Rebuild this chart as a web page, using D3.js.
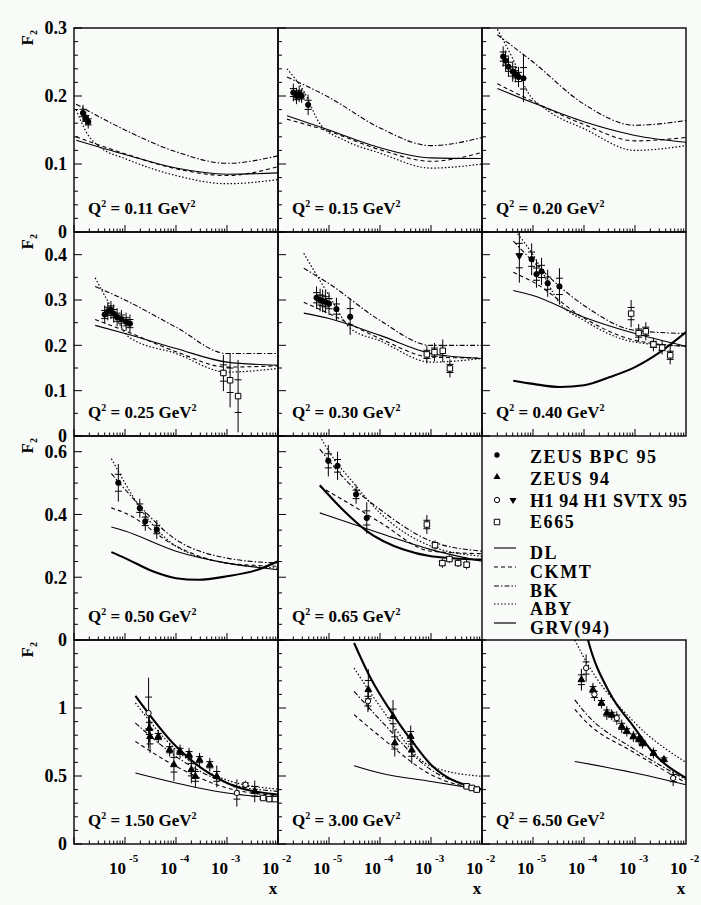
<!DOCTYPE html>
<html>
<head>
<meta charset="utf-8">
<script src="https://cdn.jsdelivr.net/npm/d3@7"></script>
<style>
body { margin: 0; background: #f8fbf8; }
svg text { font-family: "Liberation Serif", "Times New Roman", Times, serif; font-weight: bold; fill: #000; }
</style>
</head>
<body>
<div id="chart"></div>
<script>
// F2 vs x for 11 Q^2 bins, models DL / CKMT / BK / ABY / GRV(94)
var q2Labels = ["0.11", "0.15", "0.20", "0.25", "0.30", "0.40", "0.50", "0.65", "1.50", "3.00", "6.50"];
var panelCell = [0, 1, 2, 3, 4, 5, 6, 7, 9, 10, 11];   // cell 8 holds the legend
var rowMax = [0.3, 0.45, 0.65, 1.5];
var rowLabels = [[0, 0.1, 0.2, 0.3], [0, 0.1, 0.2, 0.3, 0.4], [0, 0.2, 0.4, 0.6], [0, 0.5, 1]];
var rowMinor = [0.02, 0.05, 0.05, 0.1];
var xTickLabels = [-5, -4, -3, -2];

// model curves, [x, F2] per panel
var dlCurves = [
  [[1.1e-6, 0.135], [1e-5, 0.114], [1e-4, 0.094], [1e-3, 0.085], [1e-2, 0.087]],
  [[1.5e-6, 0.171], [1e-5, 0.150], [1e-4, 0.124], [1e-3, 0.109], [1e-2, 0.108]],
  [[2e-6, 0.211], [1e-5, 0.190], [1e-4, 0.162], [1e-3, 0.142], [1e-2, 0.132]],
  [[2.6e-6, 0.244], [1e-5, 0.226], [1e-4, 0.193], [1e-3, 0.163], [1e-2, 0.156]],
  [[3.2e-6, 0.271], [1e-5, 0.259], [1e-4, 0.222], [1e-3, 0.182], [1e-2, 0.171]],
  [[4.1e-6, 0.321], [1e-5, 0.310], [1e-4, 0.262], [1e-3, 0.226], [1e-2, 0.198]],
  [[5.4e-6, 0.360], [1e-5, 0.347], [1e-4, 0.283], [1e-3, 0.245], [1e-2, 0.224]],
  [[6.6e-6, 0.405], [1e-5, 0.395], [1e-4, 0.340], [1e-3, 0.288], [1e-2, 0.251]],
  [[1.6e-5, 0.522], [1e-4, 0.449], [1e-3, 0.375], [1e-2, 0.338]],
  [[3.1e-5, 0.576], [1e-4, 0.522], [1e-3, 0.460], [1e-2, 0.400]],
  [[6.6e-5, 0.607], [1e-3, 0.522], [1e-2, 0.436]]
];
var ckmtCurves = [
  [[1.1e-6, 0.140], [1e-5, 0.115], [1e-4, 0.093], [1e-3, 0.083], [1e-2, 0.096]],
  [[1.5e-6, 0.166], [1e-5, 0.148], [1e-4, 0.121], [1e-3, 0.104], [1e-2, 0.117]],
  [[2e-6, 0.218], [1e-5, 0.192], [1e-4, 0.158], [1e-3, 0.134], [1e-2, 0.139]],
  [[2.6e-6, 0.257], [1e-5, 0.232], [1e-4, 0.186], [1e-3, 0.152], [1e-2, 0.155]],
  [[3.2e-6, 0.295], [1e-5, 0.270], [1e-4, 0.215], [1e-3, 0.174], [1e-2, 0.172]],
  [[4.1e-6, 0.361], [1e-5, 0.340], [1e-4, 0.260], [1e-3, 0.211], [1e-2, 0.198]],
  [[5.4e-6, 0.421], [1e-5, 0.405], [1e-4, 0.299], [1e-3, 0.245], [1e-2, 0.235]],
  [[6.6e-6, 0.489], [3e-5, 0.427], [1e-4, 0.375], [1e-3, 0.283], [1e-2, 0.275]],
  [[1.6e-5, 0.754], [1e-4, 0.571], [1e-3, 0.412], [1e-2, 0.355]],
  [[3.1e-5, 0.951], [1e-4, 0.791], [1e-3, 0.510], [1e-2, 0.400]],
  [[6.6e-5, 0.990], [1e-4, 0.914], [1e-3, 0.669], [1e-2, 0.450]]
];
var bkCurves = [
  [[1.1e-6, 0.188], [1e-5, 0.150], [1e-4, 0.118], [1e-3, 0.101], [1e-2, 0.112]],
  [[1.5e-6, 0.228], [1e-5, 0.198], [1e-4, 0.153], [1e-3, 0.127], [1e-2, 0.139]],
  [[2e-6, 0.290], [1e-5, 0.250], [1e-4, 0.188], [1e-3, 0.157], [1e-2, 0.164]],
  [[2.6e-6, 0.330], [1e-5, 0.300], [1e-4, 0.240], [1e-3, 0.182], [1e-2, 0.182]],
  [[3.2e-6, 0.370], [1e-5, 0.336], [1e-4, 0.255], [1e-3, 0.200], [1e-2, 0.200]],
  [[4.1e-6, 0.430], [1e-5, 0.385], [1e-4, 0.288], [1e-3, 0.233], [1e-2, 0.226]],
  [[5.4e-6, 0.530], [1e-5, 0.480], [1e-4, 0.320], [1e-3, 0.261], [1e-2, 0.245]],
  [[6.6e-6, 0.608], [3e-5, 0.485], [1e-4, 0.416], [1e-3, 0.315], [1e-2, 0.283]],
  [[1.6e-5, 0.890], [1e-4, 0.644], [1e-3, 0.449], [1e-2, 0.387]],
  [[3.1e-5, 1.122], [1e-4, 0.914], [1e-3, 0.546], [1e-2, 0.412]],
  [[6.6e-5, 1.060], [1e-4, 0.975], [1e-3, 0.693], [1e-2, 0.473]]
];
var abyCurves = [
  [[1.1e-6, 0.180], [1.8e-6, 0.145], [3.2e-6, 0.125], [1e-5, 0.108], [1e-4, 0.083], [1e-3, 0.071], [1e-2, 0.077]],
  [[1.5e-6, 0.240], [3.2e-6, 0.207], [6.8e-6, 0.158], [2e-5, 0.135], [1e-4, 0.116], [1e-3, 0.094], [1e-2, 0.100]],
  [[2e-6, 0.298], [4e-6, 0.255], [8e-6, 0.205], [2e-5, 0.178], [1e-4, 0.152], [1e-3, 0.120], [1e-2, 0.127]],
  [[2.6e-6, 0.349], [5e-6, 0.290], [1.2e-5, 0.218], [1e-4, 0.182], [1e-3, 0.141], [1e-2, 0.149]],
  [[3.2e-6, 0.403], [1e-5, 0.310], [2.6e-5, 0.238], [1e-4, 0.210], [1e-3, 0.163], [1e-2, 0.171]],
  [[5e-6, 0.446], [1e-5, 0.400], [3.4e-5, 0.292], [1e-4, 0.255], [1e-3, 0.207], [1e-2, 0.198]],
  [[5.4e-6, 0.578], [1e-5, 0.500], [3e-5, 0.380], [1e-4, 0.299], [1e-3, 0.245], [1e-2, 0.229]],
  [[6.6e-6, 0.650], [1e-5, 0.600], [3e-5, 0.501], [1e-4, 0.405], [1e-3, 0.299], [1e-2, 0.267]],
  [[1.6e-5, 1.037], [1e-4, 0.693], [1e-3, 0.470], [1e-2, 0.404]],
  [[3.1e-5, 1.294], [1e-4, 1.012], [1e-3, 0.571], [1e-2, 0.497]],
  [[6.6e-5, 1.500], [1e-4, 1.370], [1e-3, 0.890], [1e-2, 0.600]]
];
var grvCurves = [
  null, null, null, null, null,
  [[4.1e-6, 0.122], [1e-5, 0.115], [3.4e-5, 0.108], [1e-4, 0.112], [3.2e-4, 0.130], [1e-3, 0.152], [3.1e-3, 0.185], [1e-2, 0.229]],
  [[5.4e-6, 0.280], [1e-5, 0.261], [3.5e-5, 0.219], [1e-4, 0.197], [2.7e-4, 0.192], [1e-3, 0.203], [4e-3, 0.224], [1e-2, 0.251]],
  [[6.6e-6, 0.493], [2e-5, 0.410], [5.5e-5, 0.347], [2.9e-4, 0.288], [1e-3, 0.267], [1e-2, 0.256]],
  [[1.6e-5, 1.090], [1e-4, 0.718], [1e-3, 0.449], [1e-2, 0.363]],
  [[3.1e-5, 1.478], [6.3e-5, 1.232], [1.8e-4, 0.951], [4.5e-4, 0.743], [1e-3, 0.583], [1e-2, 0.400]],
  [[6.6e-5, 1.950], [1.2e-4, 1.500], [3.2e-4, 1.110], [9.3e-4, 0.865], [2.3e-3, 0.669], [1e-2, 0.485]]
];

// measurements: [panel, x, F2, error]
var zeusBpc = [
  [0, 1.5e-6, 0.175, 0.012], [0, 1.7e-6, 0.167, 0.010], [0, 1.9e-6, 0.162, 0.010],
  [1, 2.0e-6, 0.205, 0.013], [1, 2.3e-6, 0.200, 0.012], [1, 2.6e-6, 0.203, 0.012], [1, 2.9e-6, 0.200, 0.010], [1, 3.9e-6, 0.187, 0.015],
  [2, 2.6e-6, 0.258, 0.015], [2, 2.9e-6, 0.252, 0.015], [2, 3.3e-6, 0.243, 0.015], [2, 4e-6, 0.236, 0.015], [2, 4.5e-6, 0.232, 0.012], [2, 5.2e-6, 0.228, 0.015], [2, 6.5e-6, 0.226, 0.035],
  [3, 4e-6, 0.268, 0.02], [3, 4.6e-6, 0.275, 0.02], [3, 5.3e-6, 0.278, 0.02], [3, 6e-6, 0.270, 0.02], [3, 7e-6, 0.262, 0.02], [3, 8.5e-6, 0.258, 0.02], [3, 1.05e-5, 0.252, 0.02], [3, 1.25e-5, 0.248, 0.02],
  [4, 5.7e-6, 0.305, 0.025], [4, 6.7e-6, 0.300, 0.025], [4, 7.5e-6, 0.298, 0.025], [4, 8.5e-6, 0.296, 0.025], [4, 1e-5, 0.292, 0.025], [4, 1.4e-5, 0.280, 0.025], [4, 2.6e-5, 0.263, 0.04],
  [5, 9.4e-6, 0.390, 0.035], [5, 1.17e-5, 0.357, 0.03], [5, 1.47e-5, 0.363, 0.03], [5, 1.94e-5, 0.337, 0.03], [5, 3.3e-5, 0.330, 0.04],
  [6, 7.4e-6, 0.501, 0.06], [6, 1.95e-5, 0.420, 0.03], [6, 2.5e-5, 0.378, 0.03], [6, 4.2e-5, 0.352, 0.03],
  [7, 9.7e-6, 0.571, 0.05], [7, 1.47e-5, 0.555, 0.045], [7, 3.4e-5, 0.464, 0.03], [7, 5.5e-5, 0.389, 0.05]
];
var zeus94 = [
  [8, 3.0e-5, 0.850, 0.10], [8, 3.1e-5, 0.790, 0.12], [8, 4.5e-5, 0.790, 0.05], [8, 7.5e-5, 0.693, 0.05], [8, 9.1e-5, 0.583, 0.12],
  [8, 1.2e-4, 0.681, 0.05], [8, 1.8e-4, 0.657, 0.05], [8, 2.0e-4, 0.546, 0.10], [8, 2.4e-4, 0.497, 0.08], [8, 2.9e-4, 0.620, 0.05],
  [8, 4.6e-4, 0.583, 0.05], [8, 6.3e-4, 0.497, 0.08], [8, 3.5e-3, 0.387, 0.08],
  [9, 5.9e-5, 1.135, 0.15], [9, 1.8e-4, 0.938, 0.12], [9, 1.95e-4, 0.743, 0.10], [9, 4e-4, 0.791, 0.08], [9, 4.2e-4, 0.690, 0.10],
  [10, 8.9e-5, 1.208, 0.08], [10, 1.5e-4, 1.135, 0.05], [10, 2.2e-4, 1.037, 0.04], [10, 2.8e-4, 0.963, 0.05], [10, 3.5e-4, 0.950, 0.04],
  [10, 5.5e-4, 0.865, 0.05], [10, 6.9e-4, 0.830, 0.04], [10, 9.3e-4, 0.791, 0.04], [10, 1.2e-3, 0.770, 0.04], [10, 1.4e-3, 0.740, 0.04],
  [10, 2.3e-3, 0.669, 0.04], [10, 3.7e-3, 0.620, 0.03]
];
var h194 = [
  [8, 2.9e-5, 0.963, 0.26], [8, 1.56e-3, 0.375, 0.10], [8, 2.3e-3, 0.436, 0.03],
  [9, 5.8e-5, 1.050, 0.08],
  [10, 1.1e-4, 1.294, 0.10], [10, 1.6e-4, 1.100, 0.05], [10, 4.4e-4, 0.926, 0.05], [10, 5.6e-3, 0.485, 0.06]
];
var h1Svtx = [
  [5, 5.4e-6, 0.398, 0.06]
];
var e665 = [
  [3, 8.5e-4, 0.139, 0.04], [3, 1.15e-3, 0.123, 0.06], [3, 1.65e-3, 0.088, 0.08],
  [4, 8.3e-4, 0.180, 0.02], [4, 1.17e-3, 0.185, 0.02], [4, 1.7e-3, 0.188, 0.025], [4, 2.35e-3, 0.149, 0.02],
  [5, 8.4e-4, 0.270, 0.03], [5, 1.18e-3, 0.227, 0.02], [5, 1.63e-3, 0.231, 0.02], [5, 2.3e-3, 0.202, 0.015], [5, 3.4e-3, 0.195, 0.015], [5, 4.9e-3, 0.178, 0.02],
  [7, 8.3e-4, 0.368, 0.03], [7, 1.2e-3, 0.302, 0.015], [7, 1.67e-3, 0.245, 0.015], [7, 2.3e-3, 0.258, 0.012], [7, 3.4e-3, 0.245, 0.012], [7, 5e-3, 0.240, 0.015],
  [8, 5.1e-3, 0.338, 0.02], [8, 6.8e-3, 0.330, 0.02], [8, 8.7e-3, 0.330, 0.02],
  [9, 5e-3, 0.424, 0.02], [9, 6.3e-3, 0.412, 0.02], [9, 7.9e-3, 0.400, 0.02]
];

var legendData = ["ZEUS BPC 95", "ZEUS 94", "H1 94 H1 SVTX 95", "E665", "DL", "CKMT", "BK", "ABY", "GRV(94)"];

var width = 701, height = 905;
var colLeft = [74, 278, 482], rowTop = [28, 232, 436, 640], cell = 204;
var serif = "'Liberation Serif', 'Times New Roman', Times, serif";

var svg = d3.select("#chart").append("svg")
    .attr("width", width)
    .attr("height", height)
    .attr("font-family", serif)
    .attr("font-weight", "bold");

svg.append("rect").attr("width", width).attr("height", height).attr("fill", "#f8fbf8");

var styles = {
  dl:   {w: 1.1, dash: null},
  ckmt: {w: 1.1, dash: "4,3"},
  bk:   {w: 1.1, dash: "5,2,1.5,2"},
  aby:  {w: 1.2, dash: "1.5,2"},
  grv:  {w: 2.1, dash: null}
};

function panelScales(i) {
  var c = panelCell[i], row = Math.floor(c / 3), col = c % 3;
  var x = d3.scaleLog().domain([1e-6, 1e-2]).range([colLeft[col], colLeft[col] + cell]);
  var y = d3.scaleLinear().domain([0, rowMax[row]]).range([rowTop[row] + cell, rowTop[row]]);
  return {x: x, y: y, row: row, col: col};
}

// clip paths
q2Labels.forEach(function(q, i) {
  var s = panelScales(i);
  svg.append("clipPath").attr("id", "clip" + i)
    .append("rect")
      .attr("x", colLeft[s.col]).attr("y", rowTop[s.row])
      .attr("width", cell).attr("height", cell);
});

// tick marks, inward, on every panel
q2Labels.forEach(function(q, i) {
  var s = panelScales(i);
  var g = svg.append("g");
  var left = colLeft[s.col];
  var ticks = d3.range(0, rowMax[s.row] + 1e-9, rowMinor[s.row]);
  ticks.forEach(function(v) {
    var major = rowLabels[s.row].some(function(l) { return Math.abs(l - v) < 1e-6; });
    g.append("line")
      .attr("x1", left).attr("x2", left + (major ? 8 : 4))
      .attr("y1", s.y(v)).attr("y2", s.y(v))
      .attr("stroke", "#000").attr("stroke-width", 1);
  });
  for (var d = -6; d < -2; d++) {
    for (var k = 1; k < 10; k++) {
      var v = k * Math.pow(10, d);
      g.append("line")
        .attr("x1", s.x(v)).attr("x2", s.x(v))
        .attr("y1", s.y(0)).attr("y2", s.y(0) - (k === 1 ? 7 : 3.5))
        .attr("stroke", "#000").attr("stroke-width", 1);
    }
  }
});

// row axis labels
rowLabels.forEach(function(labels, row) {
  var y = d3.scaleLinear().domain([0, rowMax[row]]).range([rowTop[row] + cell, rowTop[row]]);
  labels.forEach(function(v) {
    svg.append("text")
      .attr("x", 67).attr("y", y(v)).attr("dy", "0.35em")
      .attr("text-anchor", "end")
      .style("font-size", "18px")
      .text(v === 0 ? "0" : (row === 3 ? String(v) : v.toFixed(1)));
  });
  var f = svg.append("text")
    .attr("transform", "translate(33," + (rowTop[row] + 2) + ") rotate(-90)")
    .attr("text-anchor", "end")
    .style("font-size", "17px");
  f.append("tspan").text("F");
  f.append("tspan").attr("dy", 4).style("font-size", "10px").text("2");
});

// model curves
var models = [["aby", abyCurves], ["bk", bkCurves], ["ckmt", ckmtCurves], ["dl", dlCurves], ["grv", grvCurves]];
q2Labels.forEach(function(q, i) {
  var s = panelScales(i);
  var line = d3.line()
    .x(function(d) { return s.x(d[0]); })
    .y(function(d) { return s.y(d[1]); })
    .curve(d3.curveMonotoneX);
  var g = svg.append("g").attr("clip-path", "url(#clip" + i + ")");
  models.forEach(function(m) {
    var pts = m[1][i];
    if (!pts) return;
    g.append("path")
      .datum(pts)
      .attr("d", line)
      .attr("fill", "none")
      .attr("stroke", "#000")
      .attr("stroke-width", styles[m[0]].w)
      .attr("stroke-dasharray", styles[m[0]].dash);
  });
});

// measurements
var markerSets = [
  {data: zeusBpc, type: d3.symbolCircle, size: 22, fill: "#000", rot: 0},
  {data: zeus94, type: d3.symbolTriangle, size: 20, fill: "#000", rot: 0},
  {data: h194, type: d3.symbolCircle, size: 22, fill: "#fff", rot: 0},
  {data: h1Svtx, type: d3.symbolTriangle, size: 20, fill: "#000", rot: 180},
  {data: e665, type: d3.symbolSquare, size: 30, fill: "#fff", rot: 0}
];
markerSets.forEach(function(ms) {
  ms.data.forEach(function(p) {
    var s = panelScales(p[0]);
    var g = svg.append("g").attr("clip-path", "url(#clip" + p[0] + ")");
    var cx = s.x(p[1]), cy = s.y(p[2]);
    g.append("line")
      .attr("x1", cx).attr("x2", cx)
      .attr("y1", s.y(p[2] - p[3])).attr("y2", s.y(p[2] + p[3]))
      .attr("stroke", "#000").attr("stroke-width", 1);
    [-0.45, 0.45].forEach(function(f) {
      g.append("line")
        .attr("x1", cx - 3.5).attr("x2", cx + 3.5)
        .attr("y1", s.y(p[2] + f * p[3])).attr("y2", s.y(p[2] + f * p[3]))
        .attr("stroke", "#000").attr("stroke-width", 1);
    });
    g.append("path")
      .attr("d", d3.symbol().type(ms.type).size(ms.size))
      .attr("transform", "translate(" + cx + "," + cy + ") rotate(" + ms.rot + ")")
      .attr("fill", ms.fill).attr("stroke", "#000").attr("stroke-width", 1);
  });
});

// frames and Q^2 labels
q2Labels.forEach(function(q, i) {
  var s = panelScales(i);
  svg.append("rect")
    .attr("x", colLeft[s.col]).attr("y", rowTop[s.row])
    .attr("width", cell).attr("height", cell)
    .attr("fill", "none").attr("stroke", "#000").attr("stroke-width", 1.4);
  var t = svg.append("text")
    .attr("x", colLeft[s.col] + 14).attr("y", rowTop[s.row] + cell - 18)
    .style("font-size", "17px");
  t.append("tspan").text("Q");
  t.append("tspan").attr("dy", -7).style("font-size", "10px").text("2");
  t.append("tspan").attr("dy", 7).text(" = " + q + " GeV");
  t.append("tspan").attr("dy", -7).style("font-size", "10px").text("2");
});

// x tick labels under bottom row
colLeft.forEach(function(left, col) {
  var x = d3.scaleLog().domain([1e-6, 1e-2]).range([left, left + cell]);
  xTickLabels.forEach(function(e) {
    var t = svg.append("text")
      .attr("x", x(Math.pow(10, e)) - 16).attr("y", 874)
      .style("font-size", "17px");
    t.append("tspan").text("10");
    t.append("tspan").attr("dx", 3).attr("dy", -12).style("font-size", "11px").text(String(e));
  });
  svg.append("text")
    .attr("x", left + cell - 5).attr("y", 894)
    .attr("text-anchor", "middle")
    .style("font-size", "17px")
    .text("x");
});

// legend in the empty cell
var lg = svg.append("g");
var lx = 497, ltx = 530;
var legY = [463, 485, 507, 528, 559, 578, 597, 615, 634];
lg.append("path").attr("d", d3.symbol().type(d3.symbolCircle).size(22))
  .attr("transform", "translate(" + lx + ",455)").attr("fill", "#000");
lg.append("path").attr("d", d3.symbol().type(d3.symbolTriangle).size(22))
  .attr("transform", "translate(" + lx + ",477)").attr("fill", "#000");
lg.append("path").attr("d", d3.symbol().type(d3.symbolCircle).size(22))
  .attr("transform", "translate(" + lx + ",500)").attr("fill", "#fff").attr("stroke", "#000");
lg.append("path").attr("d", d3.symbol().type(d3.symbolTriangle).size(22))
  .attr("transform", "translate(513,500) rotate(180)").attr("fill", "#000");
lg.append("path").attr("d", d3.symbol().type(d3.symbolSquare).size(30))
  .attr("transform", "translate(" + lx + ",522)").attr("fill", "#fff").attr("stroke", "#000");
["dl", "ckmt", "bk", "aby", "grv"].forEach(function(k, j) {
  var yy = legY[4 + j] - 11;
  lg.append("line")
    .attr("x1", 494).attr("x2", 516).attr("y1", yy).attr("y2", yy)
    .attr("stroke", "#000")
    .attr("stroke-width", k === "grv" ? 1.2 : styles[k].w)
    .attr("stroke-dasharray", styles[k].dash);
});
legendData.forEach(function(name, j) {
  lg.append("text")
    .attr("x", ltx).attr("y", legY[j])
    .style("font-size", "18px")
    .style("letter-spacing", j === 2 ? "0.6px" : "1.6px")
    .text(name);
});
</script>
</body>
</html>
